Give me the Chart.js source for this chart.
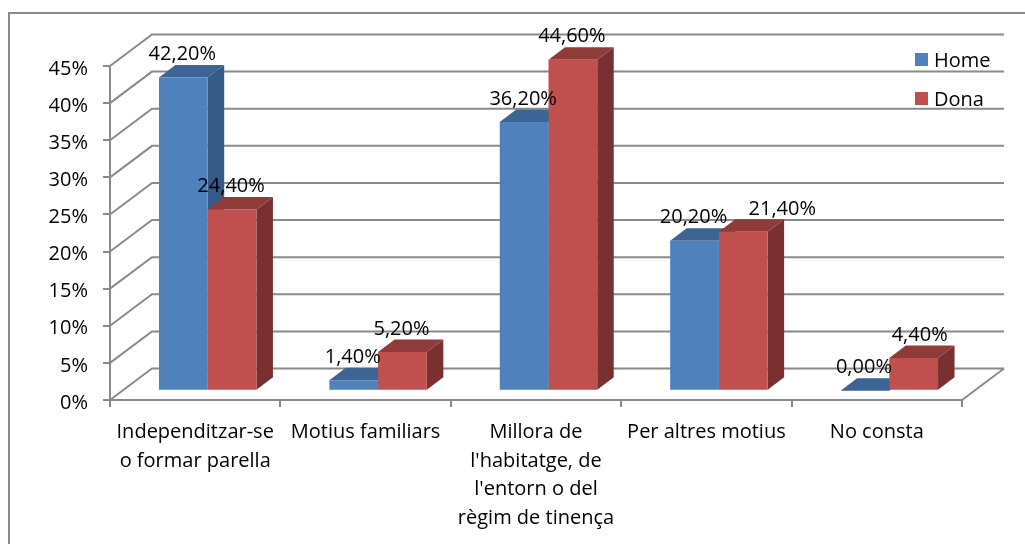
<!DOCTYPE html>
<html>
<head>
<meta charset="utf-8">
<title>Home / Dona</title>
<script src="https://cdn.jsdelivr.net/npm/chart.js@4"></script>
<style>
    html, body { margin: 0; padding: 0; background: #fff; overflow: hidden; }
    canvas { display: block; }
</style>
</head>
<body>
<canvas id="chart" width="1025" height="544"></canvas>
<script>
const categories = [
    ['Independitzar-se', 'o formar parella'],
    'Motius familiars',
    ['Millora de', "l'habitatge, de", "l'entorn o del", 'règim de tinença'],
    'Per altres motius',
    'No consta'
];
const homeValues = [42.2, 1.4, 36.2, 20.2, 0];
const donaValues = [24.4, 5.2, 44.6, 21.4, 4.4];
const yTicks = [0, 5, 10, 15, 20, 25, 30, 35, 40, 45];

const FONT = '"Open Sans", "Noto Sans", sans-serif';
const FONT_SIZE = 20;
const GREY = '#8a8a8a';
const TEXT = '#000';
// depth of the back wall and of the bars
const WALL_DX = 42, WALL_DY = 31.5;
const BAR_SHIFT_X = 12.5, BAR_SHIFT_Y = 9.3;
const BAR_DX = 16.5, BAR_DY = 12.5;

const faceColors = [
    { top: '#3c6494', side: '#345a85' },
    { top: '#8f3b39', side: '#7a3030' }
];

function polygon(ctx, points, color) {
    ctx.fillStyle = color;
    ctx.beginPath();
    points.forEach((p, i) => i ? ctx.lineTo(p[0], p[1]) : ctx.moveTo(p[0], p[1]));
    ctx.closePath();
    ctx.fill();
}

const depthPlugin = {
    id: 'depth',
    beforeDraw(chart) {
        const ctx = chart.ctx;
        const { x, y } = chart.scales;
        const left = x.left, right = x.right;

        ctx.save();
        // frame
        ctx.strokeStyle = GREY;
        ctx.lineWidth = 2;
        ctx.strokeRect(9, 13, 1030, 560);

        // left wall and back wall grid lines
        ctx.beginPath();
        yTicks.forEach(v => {
            const py = y.getPixelForValue(v);
            ctx.moveTo(left, py);
            ctx.lineTo(left + WALL_DX, py - WALL_DY);
            ctx.lineTo(right + WALL_DX, py - WALL_DY);
        });
        // floor edge on the right
        const py0 = y.getPixelForValue(0);
        ctx.moveTo(right + WALL_DX, py0 - WALL_DY);
        ctx.lineTo(right, py0);
        ctx.stroke();
        ctx.restore();
    },
    beforeDatasetsDraw(chart) {
        const ctx = chart.ctx;
        ctx.save();
        ctx.translate(BAR_SHIFT_X, -BAR_SHIFT_Y);
        // top and side faces first, the library then paints the fronts over them
        chart.data.datasets.forEach((ds, di) => {
            chart.getDatasetMeta(di).data.forEach(bar => {
                const l = bar.x - bar.width / 2, r = bar.x + bar.width / 2;
                polygon(ctx, [[r, bar.y], [r + BAR_DX, bar.y - BAR_DY], [r + BAR_DX, bar.base - BAR_DY], [r, bar.base]], faceColors[di].side);
                polygon(ctx, [[l, bar.y], [l + BAR_DX, bar.y - BAR_DY], [r + BAR_DX, bar.y - BAR_DY], [r, bar.y]], faceColors[di].top);
            });
        });
    },
    afterDatasetsDraw(chart) {
        const ctx = chart.ctx;
        ctx.restore();

        // value labels
        ctx.save();
        ctx.font = FONT_SIZE + 'px ' + FONT;
        ctx.fillStyle = TEXT;
        ctx.textAlign = 'center';
        ctx.textBaseline = 'middle';
        chart.data.datasets.forEach((ds, di) => {
            chart.getDatasetMeta(di).data.forEach((bar, i) => {
                const text = ds.data[i].toFixed(2).replace('.', ',') + '%';
                // the 21,40% label sits off to the right in the original
                const nudge = (di === 1 && i === 3) ? 40 : (di === 1 && i === 4) ? 7 : 0;
                ctx.fillText(text, bar.x + BAR_SHIFT_X + nudge - 1, bar.y - BAR_SHIFT_Y - 23);
            });
        });

        // legend
        chart.data.datasets.forEach((ds, di) => {
            const top = 53 + di * 39;
            ctx.fillStyle = ds.backgroundColor;
            ctx.fillRect(915, top, 13, 13);
            ctx.fillStyle = TEXT;
            ctx.textAlign = 'left';
            ctx.fillText(ds.label, 934, top + 8);
        });
        ctx.restore();
    }
};

new Chart(document.getElementById('chart'), {
    type: 'bar',
    data: {
        labels: categories,
        datasets: [
            { label: 'Home', data: homeValues, backgroundColor: '#4f81bd' },
            { label: 'Dona', data: donaValues, backgroundColor: '#c0504d' }
        ]
    },
    options: {
        responsive: false,
        animation: false,
        layout: { padding: { top: 66, right: 63, left: 0, bottom: 0 } },
        plugins: { legend: { display: false }, tooltip: { enabled: false } },
        datasets: { bar: { categoryPercentage: 0.572, barPercentage: 1 } },
        scales: {
            x: {
                afterFit: scale => { scale.height = 144; },
                grid: { drawOnChartArea: false, color: GREY, lineWidth: 2, tickLength: 7, offset: true },
                border: { color: GREY, width: 2 },
                ticks: {
                    color: TEXT,
                    font: { family: FONT, size: FONT_SIZE, lineHeight: 1.43 },
                    maxRotation: 0,
                    autoSkip: false,
                    padding: 11
                }
            },
            y: {
                min: 0,
                max: 45,
                afterFit: scale => { scale.width = 110; },
                afterBuildTicks: scale => { scale.ticks = yTicks.map(value => ({ value })); },
                grid: { drawOnChartArea: false, color: GREY, lineWidth: 2, tickLength: 7 },
                border: { color: GREY, width: 2 },
                ticks: {
                    color: TEXT,
                    font: { family: FONT, size: FONT_SIZE },
                    padding: 15,
                    labelOffset: 3,
                    callback: v => v + '%'
                }
            }
        }
    },
    plugins: [depthPlugin]
});
</script>
</body>
</html>
